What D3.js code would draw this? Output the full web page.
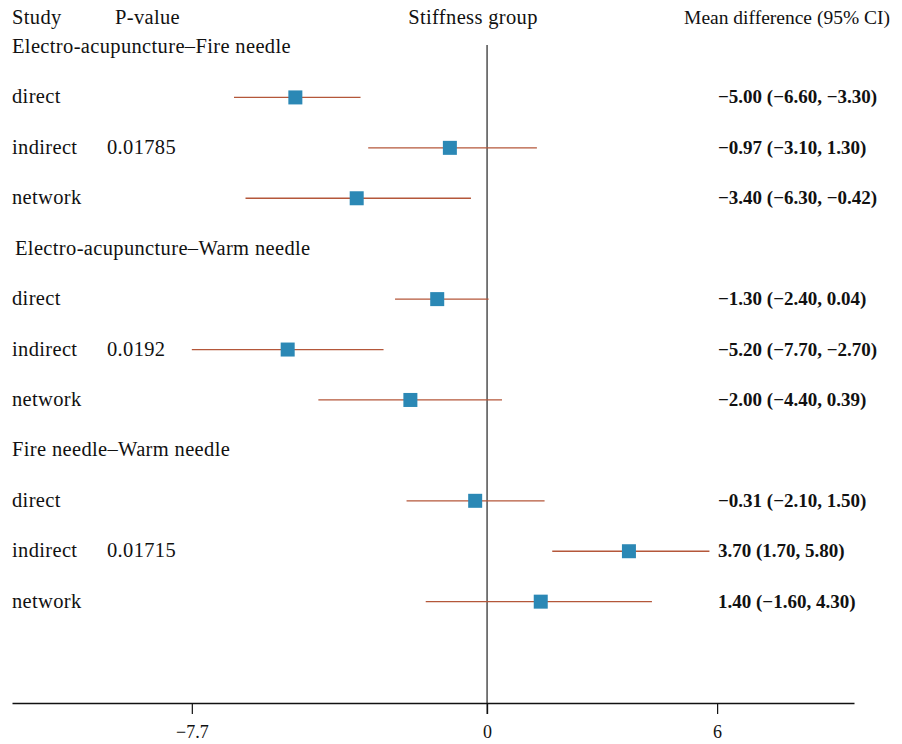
<!DOCTYPE html>
<html><head><meta charset="utf-8">
<script src="https://cdn.jsdelivr.net/npm/d3@7"></script>
<style>body{margin:0;background:#fff}svg{display:block}text{font-family:"Liberation Serif","Times New Roman",serif;fill:#111}</style>
</head><body>
<script>
const groups = ["Electro-acupuncture\u2013Fire needle","Electro-acupuncture\u2013Warm needle","Fire needle\u2013Warm needle"];
const studies = ["direct","indirect","network"];
const pValues = ["", "0.01785", "", "", "0.0192", "", "", "0.01715", ""];
const means = [-5.00, -0.97, -3.40, -1.30, -5.20, -2.00, -0.31, 3.70, 1.40];
const lower = [-6.60, -3.10, -6.30, -2.40, -7.70, -4.40, -2.10, 1.70, -1.60];
const upper = [-3.30, 1.30, -0.42, 0.04, -2.70, 0.39, 1.50, 5.80, 4.30];
const tickValues = [-7.7, 0, 6];
const tickLabels = ["\u22127.7", "0", "6"];

const W = 902, H = 744;
const FS = 20.5, LS = 0.35;
const svg = d3.select("body").append("svg").attr("width", W).attr("height", H);
const x = d3.scaleLinear().domain([-12.39, 9.57]).range([12, 854]);
const rowY = d3.scaleLinear().domain([1, 14]).range([47, 702.5]);
const fmt = v => (v < 0 ? "\u2212" : "") + Math.abs(v).toFixed(2);

function label(xp, y, t, anchor) {
  return svg.append("text").attr("x", xp).attr("y", y).attr("font-size", FS)
    .attr("letter-spacing", LS).attr("text-anchor", anchor || "start").text(t);
}

// headers
label(12, 24, "Study");
label(115, 24, "P-value");
label(473, 24, "Stiffness group", "middle");
svg.append("text").attr("x", 890).attr("y", 24).attr("font-size", 19.5).attr("text-anchor", "end").text("Mean difference (95% CI)");

// zero line
svg.append("line").attr("x1", x(0)).attr("x2", x(0)).attr("y1", 45).attr("y2", 714).attr("stroke", "#222").attr("stroke-width", 1.2);

const rows = [];
groups.forEach((g, gi) => {
  rows.push({type: "group", label: g, row: 1 + gi * 4});
  studies.forEach((s, si) => {
    const i = gi * 3 + si;
    rows.push({type: "study", label: s, row: 2 + gi * 4 + si, i});
  });
});

rows.forEach(r => {
  const y = rowY(r.row);
  if (r.type === "group") {
    label(r.label.indexOf("Warm needle") > 0 && r.label.startsWith("Electro") ? 15 : 12, y + 6, r.label);
    return;
  }
  const i = r.i;
  label(12, y + 6, r.label);
  if (pValues[i]) label(107, y + 6, pValues[i]);
  svg.append("line").attr("x1", x(lower[i])).attr("x2", x(upper[i])).attr("y1", y).attr("y2", y)
    .attr("stroke", "#b4573a").attr("stroke-width", 1.3);
  svg.append("rect").attr("x", x(means[i]) - 7).attr("y", y - 7).attr("width", 14).attr("height", 14)
    .attr("fill", "#2b88b5");
  svg.append("text").attr("x", 718).attr("y", y + 6).attr("font-size", 19).attr("font-weight", "bold")
    .text(`${fmt(means[i])} (${fmt(lower[i])}, ${fmt(upper[i])})`);
});

// axis
const axis = d3.axisBottom(x).tickValues(tickValues).tickFormat((d, k) => tickLabels[k]).tickSize(11).tickSizeOuter(0);
const ag = svg.append("g").attr("transform", `translate(0,703)`).call(axis);
ag.select(".domain").attr("stroke", "#111").attr("stroke-width", 1.5);
ag.selectAll(".tick line").attr("stroke", "#111").attr("stroke-width", 1.2);
ag.selectAll(".tick text").attr("font-size", 18).attr("dy", "1.15em").style("font-family", '"Liberation Serif",serif').attr("fill", "#111");
</script>
</body></html>
